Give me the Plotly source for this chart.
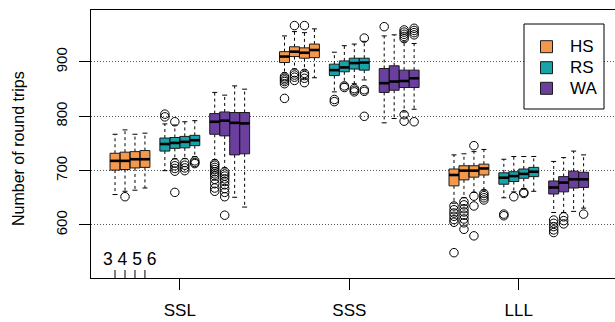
import plotly.graph_objects as go

# ---------------- data ----------------
groups = ["SSL", "SSS", "LLL"]
methods = ["HS", "RS", "WA"]
k_labels = ["3", "4", "5", "6"]
colors = {"HS": "#F4994B", "RS": "#18A3AA", "WA": "#6A3F9E"}

# each list: 12 boxes = groups (SSL, SSS, LLL) x k (3,4,5,6)
HS_low = [656, 662, 664, 668, 880, 887, 885, 871, 640, 650, 660, 664]
HS_q1 = [701, 702, 705, 706, 899, 910, 907, 908, 672, 683, 688, 692]
HS_med = [718, 718, 721, 721, 910, 919, 917, 922, 692, 700, 700, 704]
HS_q3 = [732, 734, 735, 737, 919, 928, 926, 933, 703, 709, 709, 712]
HS_high = [767, 775, 767, 769, 948, 956, 954, 961, 729, 731, 735, 739]
HS_out = [[], [652], [], [],
          [873, 870, 867, 864, 860, 833], [967, 880, 876, 872, 866], [967, 879, 875, 870, 862], [],
          [635, 628, 622, 616, 610, 605, 549], [643, 637, 630, 624, 618, 611, 604, 592],
          [746, 653, 635, 580], [658, 654, 650, 646]]

RS_low = [700, 722, 722, 726, 845, 861, 860, 867, 650, 661, 667, 662]
RS_q1 = [736, 741, 742, 746, 875, 882, 887, 885, 675, 680, 686, 689]
RS_med = [749, 751, 753, 756, 885, 890, 898, 899, 687, 690, 694, 698]
RS_q3 = [760, 761, 763, 765, 896, 902, 907, 907, 696, 698, 703, 706]
RS_high = [786, 784, 790, 792, 918, 930, 933, 938, 721, 726, 726, 726]
RS_out = [[804, 799], [790, 714, 709, 704, 699, 660], [715, 710, 705, 700], [718, 715, 713],
          [831, 827], [856, 853], [851, 848, 845], [944, 849, 846, 800],
          [620, 617], [652], [660, 658], []]

WA_low = [720, 705, 651, 633, 788, 796, 808, 813, 623, 623, 625, 631]
WA_q1 = [767, 764, 729, 731, 844, 848, 853, 853, 657, 661, 668, 669]
WA_med = [790, 792, 788, 787, 861, 864, 865, 870, 669, 678, 684, 684]
WA_q3 = [805, 808, 807, 807, 888, 893, 885, 885, 681, 689, 699, 697]
WA_high = [844, 839, 856, 850, 948, 950, 937, 934, 717, 724, 736, 729]
WA_out = [[713, 710, 706, 702, 698, 694, 690, 684, 676, 668, 662],
          [698, 694, 690, 685, 680, 674, 667, 660, 652, 618], [], [],
          [965], [], [959, 955, 951, 947, 943, 803, 791], [962, 958, 954, 950, 790],
          [609, 603, 597, 591, 586], [615, 608, 602], [], [620]]

stats = {
    "HS": (HS_low, HS_q1, HS_med, HS_q3, HS_high, HS_out),
    "RS": (RS_low, RS_q1, RS_med, RS_q3, RS_high, RS_out),
    "WA": (WA_low, WA_q1, WA_med, WA_q3, WA_high, WA_out),
}

# ---------------- layout constants ----------------
GROUP_STEP = 17
METHOD_STEP = 5
HALF = 0.5
CAP = 0.25

fig = go.Figure()


def pos(g, m, k):
    return g * GROUP_STEP + m * METHOD_STEP + k


for mi, m in enumerate(methods):
    low, q1, med, q3, high, outs = stats[m]
    wx, wy, cx, cy, bx, by, mx, my, ox, oy = [], [], [], [], [], [], [], [], [], []
    for g in range(len(groups)):
        for k in range(len(k_labels)):
            i = g * 4 + k
            p = pos(g, mi, k)
            wx += [p, p, None, p, p, None]
            wy += [q3[i], high[i], None, q1[i], low[i], None]
            cx += [p - CAP, p + CAP, None, p - CAP, p + CAP, None]
            cy += [high[i], high[i], None, low[i], low[i], None]
            bx += [p - HALF, p + HALF, p + HALF, p - HALF, p - HALF, None]
            by += [q1[i], q1[i], q3[i], q3[i], q1[i], None]
            mx += [p - HALF, p + HALF, None]
            my += [med[i], med[i], None]
            for v in outs[i]:
                ox.append(p)
                oy.append(v)
    fig.add_trace(go.Scatter(x=wx, y=wy, mode="lines", line=dict(color="black", width=1, dash="3px,3px"),
                             hoverinfo="skip", showlegend=False))
    fig.add_trace(go.Scatter(x=cx, y=cy, mode="lines", line=dict(color="black", width=1),
                             hoverinfo="skip", showlegend=False))
    fig.add_trace(go.Scatter(x=bx, y=by, mode="lines", fill="toself", fillcolor=colors[m],
                             line=dict(color="#1a1a1a", width=1), hoverinfo="skip", showlegend=False))
    fig.add_trace(go.Scatter(x=mx, y=my, mode="lines", line=dict(color="black", width=2.6),
                             hoverinfo="skip", showlegend=False))
    fig.add_trace(go.Scatter(x=ox, y=oy, mode="markers",
                             marker=dict(symbol="circle-open", size=8.5, color="black", line=dict(width=1)),
                             hoverinfo="skip", showlegend=False))

FONT = "Liberation Sans, Arial, Helvetica, sans-serif"
W, H = 615, 322
L, R, T, B = 91, 0, 10, 44
pw, ph = W - L - R, H - T - B

group_centers = [g * GROUP_STEP + (2 * METHOD_STEP + 3) / 2 for g in range(len(groups))]

shapes = []
# small k ticks under SSL HS boxes
for k in range(len(k_labels)):
    shapes.append(dict(type="line", xref="x", yref="paper", x0=pos(0, 0, k), x1=pos(0, 0, k),
                       y0=0, y1=8 / ph, line=dict(color="black", width=1)))


def px2paper(xp, yp):
    return (xp - L) / pw, (H - B - yp) / ph


# legend box
lx0, ly0 = px2paper(524, 109)
lx1, ly1 = px2paper(604, 24)
shapes.append(dict(type="rect", xref="paper", yref="paper", x0=lx0, x1=lx1, y0=ly0, y1=ly1,
                   line=dict(color="black", width=1), fillcolor="white", layer="above"))
annotations = []
rows_y = [46.7, 67.7, 88.3]
for m, ry in zip(methods, rows_y):
    sx0, sy0 = px2paper(540.5, ry + 6)
    sx1, sy1 = px2paper(552.5, ry - 6)
    shapes.append(dict(type="rect", xref="paper", yref="paper", x0=sx0, x1=sx1, y0=sy0, y1=sy1,
                       line=dict(color="#1a1a1a", width=1), fillcolor=colors[m], layer="above"))
    tx, ty = px2paper(568, ry)
    annotations.append(dict(xref="paper", yref="paper", x=tx, y=ty, text=m, showarrow=False,
                            xanchor="left", yanchor="middle", font=dict(size=17, color="black", family=FONT)))

kx, ky = px2paper(130, 259)
annotations.append(dict(xref="paper", yref="paper", x=kx, y=ky, text=" ".join(k_labels), showarrow=False,
                        xanchor="center", yanchor="middle", font=dict(size=17.5, color="black", family=FONT)))
tx, ty = px2paper(18, 149)
annotations.append(dict(xref="paper", yref="paper", x=tx, y=ty, text="Number of round trips", showarrow=False,
                        textangle=-90, xanchor="center", yanchor="middle",
                        font=dict(size=16, color="black", family=FONT)))

fig.update_layout(
    width=W, height=H,
    margin=dict(l=L, r=R, t=T, b=B, autoexpand=False),
    paper_bgcolor="white", plot_bgcolor="white",
    font=dict(family=FONT, color="black"),
    showlegend=False,
    shapes=shapes, annotations=annotations,
    xaxis=dict(range=[-2.41, 50.15], tickmode="array", tickvals=group_centers, ticktext=groups,
               ticks="outside", ticklen=11, tickwidth=1, tickcolor="black", automargin=False,
               showline=True, mirror=True, linecolor="black", linewidth=1,
               showgrid=False, zeroline=False, tickfont=dict(size=17), ticklabelstandoff=6),
    yaxis=dict(range=[502.4, 995.7], tickmode="array", tickvals=[600, 700, 800, 900],
               ticks="outside", ticklen=11, tickwidth=1, tickcolor="black", tickangle=-90,
               showline=True, mirror=False, linecolor="black", linewidth=1, automargin=False,
               showgrid=True, gridcolor="#555555", griddash="1px,2px", gridwidth=1,
               zeroline=False, tickfont=dict(size=15), ticklabelstandoff=6),
)

fig.write_html("out.html", config={"displayModeBar": False, "staticPlot": True},
               post_script="document.body.style.margin='0';document.body.style.overflow='hidden';")
